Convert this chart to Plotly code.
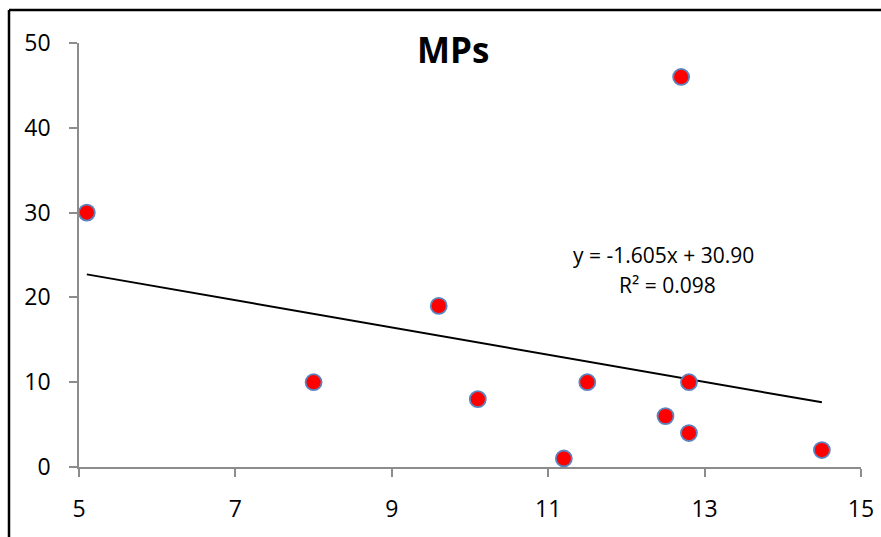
import plotly.graph_objects as go

# Data
x_vals = [5.1, 8.0, 9.6, 10.1, 11.2, 11.5, 12.5, 12.7, 12.8, 12.8, 14.5]
y_vals = [30, 10, 19, 8, 1, 10, 6, 46, 10, 4, 2]
slope = -1.605
intercept = 30.90
eq_text = "y = -1.605x + 30.90"
r2_text = "R² = 0.098"
title_text = "MPs"
x_ticks = [5, 7, 9, 11, 13, 15]
y_ticks = [0, 10, 20, 30, 40, 50]

FONT = "Open Sans"

fig = go.Figure()

tx = [min(x_vals), max(x_vals)]
ty = [slope * v + intercept for v in tx]
fig.add_trace(go.Scatter(x=tx, y=ty, mode="lines",
                         line=dict(color="black", width=2),
                         hoverinfo="skip", showlegend=False, cliponaxis=False))

fig.add_trace(go.Scatter(x=x_vals, y=y_vals, mode="markers",
                         marker=dict(color="#FF0000", size=16,
                                     line=dict(color="#5B85C0", width=1.8)),
                         showlegend=False, cliponaxis=False))

axis_common = dict(showgrid=False, zeroline=False, showline=True, automargin=False,
                   linecolor="#8C8C8C", linewidth=1.5,
                   ticks="outside", ticklen=8, tickcolor="#8C8C8C", tickwidth=1.5,
                   tickfont=dict(family=FONT, size=23, color="black"))

fig.update_xaxes(range=[5, 15], tickvals=x_ticks, ticktext=[str(v) for v in x_ticks],
                 ticklabelstandoff=13, **axis_common)
fig.update_yaxes(range=[0, 50], tickvals=y_ticks, ticktext=[str(v) for v in y_ticks],
                 ticklabelstandoff=14, **axis_common)

fig.add_annotation(x=0.478, y=0.985, xref="paper", yref="paper", text="<b>%s</b>" % title_text,
                   showarrow=False, font=dict(family=FONT, size=35, color="black"),
                   xanchor="center", yanchor="middle")
fig.add_annotation(x=12.47, y=25.0, text=eq_text, showarrow=False,
                   font=dict(family=FONT, size=21, color="black"),
                   xanchor="center", yanchor="middle")
fig.add_annotation(x=12.52, y=21.5, text=r2_text, showarrow=False,
                   font=dict(family=FONT, size=21, color="black"),
                   xanchor="center", yanchor="middle")

# Frame (top and left edges of chart area border)
bx = (9 - 79) / 782
by = (467 - 10) / 424
fig.add_shape(type="line", xref="paper", yref="paper", x0=bx, y0=by, x1=1.1, y1=by,
              line=dict(color="black", width=2.5))
fig.add_shape(type="line", xref="paper", yref="paper", x0=bx, y0=by, x1=bx, y1=-0.3,
              line=dict(color="black", width=2.5))

fig.update_layout(width=881, height=537,
                  margin=dict(l=79, r=20, t=43, b=70),
                  plot_bgcolor="white", paper_bgcolor="white",
                  font=dict(family=FONT))

fig.write_html("out.html")
